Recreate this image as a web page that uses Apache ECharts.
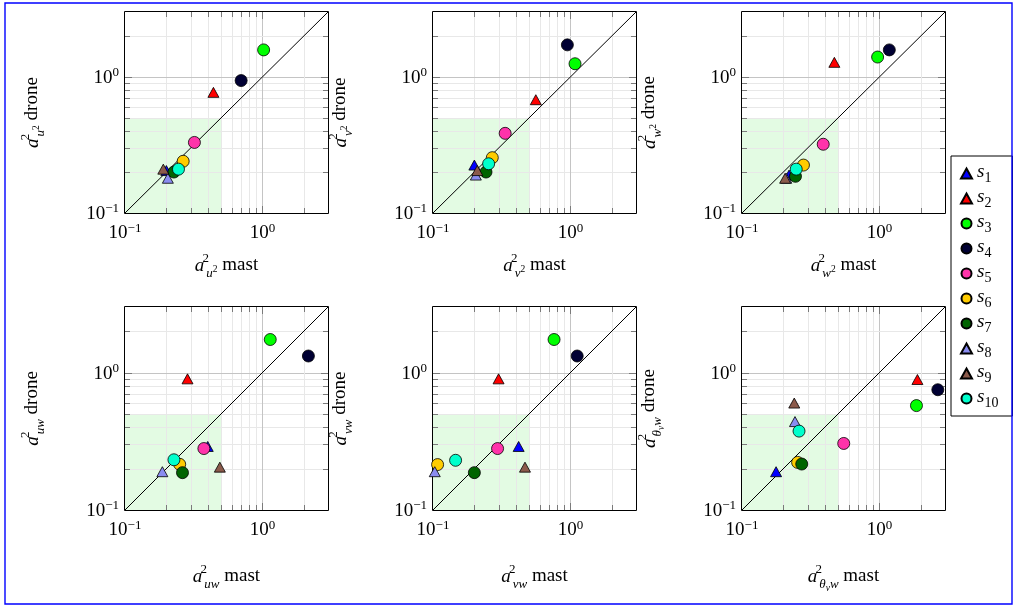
<!DOCTYPE html>
<html>
<head>
<meta charset="utf-8">
<title>Mast vs drone variance ratios</title>
<script src="https://cdn.jsdelivr.net/npm/echarts@6/dist/echarts.min.js"></script>
<style>
  html, body { margin: 0; padding: 0; background: #fff; }
  #chart { width: 1016px; height: 608px; }
</style>
</head>
<body>
<div id="chart"></div>
<script>
// ---- data -------------------------------------------------------------
const seriesNames = ['s1', 's2', 's3', 's4', 's5', 's6', 's7', 's8', 's9', 's10'];

// log-axis range shared by every panel, and the shaded "agreement" box
const axisRange = [0.1, 3];
const shadeBounds = [0.1, 0.5];
// positions of the minor/major grid lines inside the range
const gridValues = [0.2, 0.3, 0.4, 0.5, 0.6, 0.7, 0.8, 0.9, 1, 2];

// values for s1..s10 : mast (x) and drone (y)
const mastU2  = [0.20, 0.44, 1.02, 0.70, 0.32, 0.265, 0.227, 0.205, 0.19, 0.245];
const droneU2 = [0.205, 0.77, 1.58, 0.94, 0.33, 0.24, 0.20, 0.18, 0.21, 0.21];

const mastV2  = [0.20, 0.56, 1.08, 0.95, 0.335, 0.27, 0.243, 0.205, 0.21, 0.254];
const droneV2 = [0.225, 0.68, 1.25, 1.72, 0.385, 0.255, 0.20, 0.19, 0.205, 0.23];

const mastW2  = [0.22, 0.47, 0.97, 1.18, 0.39, 0.28, 0.245, 0.21, 0.206, 0.248];
const droneW2 = [0.19, 1.28, 1.40, 1.58, 0.32, 0.225, 0.186, 0.18, 0.18, 0.21];

const mastUW  = [0.40, 0.285, 1.14, 2.16, 0.375, 0.25, 0.262, 0.187, 0.49, 0.227];
const droneUW = [0.29, 0.90, 1.74, 1.32, 0.28, 0.215, 0.187, 0.19, 0.205, 0.232];

const mastVW  = [0.42, 0.30, 0.76, 1.12, 0.295, 0.108, 0.20, 0.103, 0.467, 0.146];
const droneVW = [0.29, 0.90, 1.74, 1.32, 0.28, 0.214, 0.187, 0.19, 0.205, 0.23];

const mastTVW  = [0.177, 1.89, 1.86, 2.66, 0.55, 0.254, 0.272, 0.243, 0.24, 0.26];
const droneTVW = [0.19, 0.89, 0.575, 0.75, 0.305, 0.222, 0.216, 0.44, 0.60, 0.375];

// ---- styling ----------------------------------------------------------
const seriesSymbols = ['triangle', 'triangle', 'circle', 'circle', 'circle',
                       'circle', 'circle', 'triangle', 'triangle', 'circle'];
const seriesColors = ['#0000ff', '#ff0000', '#00ff00', '#000033', '#ff33aa',
                      '#ffcc00', '#006400', '#8a8cf0', '#8b5a4b', '#00ffcc'];

const FONT = 'Liberation Serif';

// subscript markup for each panel's variable
const panels = [
  { x: mastU2,  y: droneU2,  sub: '{sb|u}{ss|2}' },
  { x: mastV2,  y: droneV2,  sub: '{sb|v}{ss|2}' },
  { x: mastW2,  y: droneW2,  sub: '{sb|w}{ss|2}' },
  { x: mastUW,  y: droneUW,  sub: '{sb|uw}' },
  { x: mastVW,  y: droneVW,  sub: '{sb|vw}' },
  { x: mastTVW, y: droneTVW, sub: '{sb|θ}{sss|v}{sb|w}' }
];

const layout = {
  lefts: [125, 433, 742],
  tops: [12, 307],
  heights: [201, 203],
  width: 203,
  xNameGaps: [39, 53]
};

// rich-text pieces; bottom padding lifts a piece above the baseline
const titleRich = {
  a:   { fontFamily: FONT, fontSize: 19, fontStyle: 'italic', color: '#000', verticalAlign: 'bottom', padding: [0, 1, 7, 0] },
  sup: { fontFamily: FONT, fontSize: 13, color: '#000', verticalAlign: 'bottom', padding: [0, 0, 17, 0], width: 1 },
  sb:  { fontFamily: FONT, fontSize: 13, fontStyle: 'italic', color: '#000', verticalAlign: 'bottom', padding: [0, 0, 2, 0] },
  ss:  { fontFamily: FONT, fontSize: 9.5, color: '#000', verticalAlign: 'bottom', padding: [0, 0, 8, 0] },
  sss: { fontFamily: FONT, fontSize: 9.5, fontStyle: 'italic', color: '#000', verticalAlign: 'bottom', padding: [0, 0, 0, 0] },
  rm:  { fontFamily: FONT, fontSize: 19, color: '#000', verticalAlign: 'bottom', padding: [0, 0, 7, 0] }
};

const tickRich = {
  b: { fontFamily: FONT, fontSize: 19, color: '#000', verticalAlign: 'bottom', padding: [0, 0, 0, 0] },
  e: { fontFamily: FONT, fontSize: 13, color: '#000', verticalAlign: 'bottom', padding: [0, 0, 8, 0] }
};

function powerLabel(v) {
  const lg = Math.log10(v);
  const k = Math.round(lg);
  if (Math.abs(lg - k) > 1e-6) return '';
  return '{b|10}{e|' + (k < 0 ? '\u2212' + (-k) : String(k)) + '}';
}

function axisTitle(sub, word) {
  return '{a|a}{sup|2}' + sub + '{rm| ' + word + '}';
}

// ---- decorations drawn through the axes -------------------------------
const crisp = (v) => Math.round(v) + 0.5;

function renderShade(params, api) {
  const p0 = api.coord([api.value(0), api.value(1)]);
  const p1 = api.coord([api.value(2), api.value(3)]);
  return {
    type: 'rect',
    shape: { x: p0[0], y: p1[1], width: p1[0] - p0[0], height: p0[1] - p1[1] },
    style: { fill: '#e3fbe3' }
  };
}

function renderGridLine(params, api) {
  const v = api.value(0);
  const cs = params.coordSys;
  const px = crisp(api.coord([v, axisRange[0]])[0]);
  const py = crisp(api.coord([axisRange[0], v])[1]);
  const lg = Math.log10(v);
  const major = Math.abs(lg - Math.round(lg)) < 1e-9;
  const lineStyle = { stroke: major ? '#c4c4c4' : '#e8e8e8', lineWidth: 1 };
  const tickStyle = { stroke: '#7a7a7a', lineWidth: 1 };
  const len = major ? 7 : 5;
  const x0 = cs.x, x1 = cs.x + cs.width, y0 = cs.y, y1 = cs.y + cs.height;
  const seg = (a, b, c, d, style) => ({ type: 'line', shape: { x1: a, y1: b, x2: c, y2: d }, style });
  return {
    type: 'group',
    children: [
      seg(px, y0, px, y1, lineStyle),
      seg(x0, py, x1, py, lineStyle),
      seg(px, y1, px, y1 - len, tickStyle),
      seg(px, y0, px, y0 + len, tickStyle),
      seg(x0, py, x0 + len, py, tickStyle),
      seg(x1, py, x1 - len, py, tickStyle)
    ]
  };
}

function renderFrame(params, api) {
  const cs = params.coordSys;
  return {
    type: 'rect',
    shape: { x: crisp(cs.x) - 1, y: crisp(cs.y) - 1, width: Math.round(cs.width) + 1, height: Math.round(cs.height) + 1 },
    style: { fill: 'none', stroke: '#000', lineWidth: 1 }
  };
}

// ---- option -----------------------------------------------------------
const grids = [], xAxes = [], yAxes = [], series = [];

panels.forEach((panel, i) => {
  const col = i % 3, row = Math.floor(i / 3);
  grids.push({
    left: layout.lefts[col], top: layout.tops[row],
    width: layout.width, height: layout.heights[row],
    containLabel: false, outerBoundsMode: 'none'
  });
  const common = {
    type: 'log', logBase: 10, min: axisRange[0], max: axisRange[1],
    gridIndex: i,
    axisLine: { show: false },
    axisTick: { show: false },
    splitLine: { show: false },
    minorTick: { show: false },
    minorSplitLine: { show: false },
    nameLocation: 'middle',
    nameTextStyle: { rich: titleRich }
  };
  xAxes.push(Object.assign({}, common, {
    position: 'bottom',
    name: axisTitle(panel.sub, 'mast'),
    nameGap: layout.xNameGaps[row],
    axisLabel: { formatter: powerLabel, margin: 9, rich: tickRich, showMaxLabel: false }
  }));
  yAxes.push(Object.assign({}, common, {
    position: 'left',
    name: axisTitle(panel.sub, 'drone'),
    nameGap: 76,
    nameRotate: 90,
    axisLabel: { formatter: powerLabel, margin: 6, rich: tickRich, showMaxLabel: false }
  }));

  series.push({
    type: 'custom', xAxisIndex: i, yAxisIndex: i, z: 1, silent: true,
    renderItem: renderShade,
    data: [[shadeBounds[0], shadeBounds[0], shadeBounds[1], shadeBounds[1]]]
  });
  series.push({
    type: 'custom', xAxisIndex: i, yAxisIndex: i, z: 2, silent: true,
    renderItem: renderGridLine,
    data: gridValues.map(v => [v, v])
  });
  series.push({
    type: 'custom', xAxisIndex: i, yAxisIndex: i, z: 3, silent: true,
    renderItem: renderFrame,
    data: [[axisRange[0], axisRange[0]]]
  });
  series.push({
    type: 'line', xAxisIndex: i, yAxisIndex: i, z: 4, silent: true,
    symbol: 'none',
    lineStyle: { color: '#000', width: 1 },
    data: [[axisRange[0], axisRange[0]], [axisRange[1], axisRange[1]]]
  });
  seriesNames.forEach((name, k) => {
    const tri = seriesSymbols[k] === 'triangle';
    series.push({
      type: 'scatter', name: name, xAxisIndex: i, yAxisIndex: i, z: 5,
      symbol: seriesSymbols[k],
      symbolSize: tri ? [11, 10] : 12,
      itemStyle: { color: seriesColors[k], borderColor: '#000', borderWidth: 0.8, opacity: 1 },
      data: [[panel.x[k], panel.y[k]]]
    });
  });
});

const option = {
  animation: false,
  backgroundColor: '#fff',
  grid: grids,
  xAxis: xAxes,
  yAxis: yAxes,
  legend: {
    data: seriesNames,
    orient: 'vertical',
    left: 951, top: 156,
    padding: [6, 14, 6, 9],
    itemGap: 2,
    itemWidth: 11, itemHeight: 10,
    borderColor: '#000', borderWidth: 1, borderRadius: 0,
    backgroundColor: '#fff',
    selectedMode: false,
    formatter: (name) => '{s|s}{n|' + name.slice(1) + '}',
    textStyle: {
      rich: {
        s: { fontFamily: FONT, fontSize: 19, fontStyle: 'italic', color: '#000', verticalAlign: 'bottom', padding: [0, 0, 4, 0] },
        n: { fontFamily: FONT, fontSize: 14, color: '#000', verticalAlign: 'bottom', padding: [0, 0, 0, 0] }
      }
    }
  },
  graphic: [{
    type: 'rect', silent: true, z: 100,
    shape: { x: 5, y: 3, width: 1007, height: 601 },
    style: { fill: 'none', stroke: '#0000ff', lineWidth: 1.4 }
  }],
  series: series
};

const chart = echarts.init(document.getElementById('chart'), null, { renderer: 'canvas' });
chart.setOption(option);
</script>
</body>
</html>
